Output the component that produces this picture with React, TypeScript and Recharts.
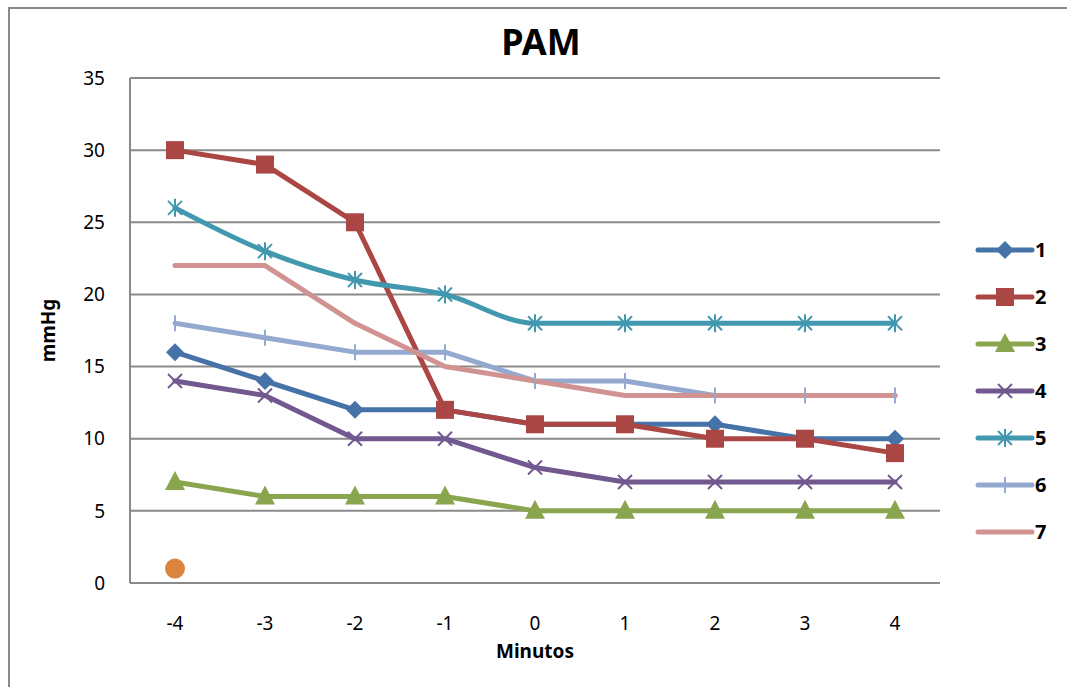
import React from "react"
import { LineChart, Line, XAxis, YAxis, CartesianGrid, Legend } from "recharts"

const minutes = ["-4", "-3", "-2", "-1", "0", "1", "2", "3", "4"]
const s1 = [16, 14, 12, 12, 11, 11, 11, 10, 10]
const s2 = [30, 29, 25, 12, 11, 11, 10, 10, 9]
const s3 = [7, 6, 6, 6, 5, 5, 5, 5, 5]
const s4 = [14, 13, 10, 10, 8, 7, 7, 7, 7]
const s5 = [26, 23, 21, 20, 18, 18, 18, 18, 18]
const s6 = [18, 17, 16, 16, 14, 14, 13, 13, 13]
const s7 = [22, 22, 18, 15, 14, 13, 13, 13, 13]
const s8 = [1, null, null, null, null, null, null, null, null]
const yTicks = [0, 5, 10, 15, 20, 25, 30, 35]

const data = minutes.map((m, i) => ({
  m,
  s1: s1[i],
  s2: s2[i],
  s3: s3[i],
  s4: s4[i],
  s5: s5[i],
  s6: s6[i],
  s7: s7[i],
  s8: s8[i],
}))

const series = [
  { key: "s1", name: "1", color: "#4572A7", marker: "diamond", curve: "linear" },
  { key: "s2", name: "2", color: "#AA4643", marker: "square", curve: "linear" },
  { key: "s3", name: "3", color: "#89A54E", marker: "triangle", curve: "linear" },
  { key: "s4", name: "4", color: "#71588F", marker: "x", curve: "linear" },
  { key: "s5", name: "5", color: "#4198AF", marker: "star", curve: "monotone" },
  { key: "s6", name: "6", color: "#93A9CF", marker: "plus", curve: "linear" },
  { key: "s7", name: "7", color: "#D19392", marker: "none", curve: "linear" },
]

const font = "'Noto Sans', 'Open Sans', sans-serif"

function marker(kind: string, color: string, cx: number, cy: number, k?: any) {
  if (kind === "diamond")
    return <polygon key={k} points={`${cx},${cy - 9} ${cx + 9},${cy} ${cx},${cy + 9} ${cx - 9},${cy}`} fill={color} />
  if (kind === "square") return <rect key={k} x={cx - 9} y={cy - 9} width={18} height={18} fill={color} />
  if (kind === "triangle")
    return <polygon key={k} points={`${cx},${cy - 11} ${cx + 10},${cy + 8} ${cx - 10},${cy + 8}`} fill={color} />
  if (kind === "x")
    return (
      <g key={k} stroke={color} strokeWidth={2}>
        <line x1={cx - 7} y1={cy - 7} x2={cx + 7} y2={cy + 7} />
        <line x1={cx - 7} y1={cy + 7} x2={cx + 7} y2={cy - 7} />
      </g>
    )
  if (kind === "star")
    return (
      <g key={k} stroke={color} strokeWidth={2}>
        <line x1={cx - 7} y1={cy - 7} x2={cx + 7} y2={cy + 7} />
        <line x1={cx - 7} y1={cy + 7} x2={cx + 7} y2={cy - 7} />
        <line x1={cx} y1={cy - 9} x2={cx} y2={cy + 9} />
      </g>
    )
  if (kind === "plus")
    return (
      <g key={k} stroke={color} strokeWidth={2}>
        <line x1={cx} y1={cy - 8} x2={cx} y2={cy + 8} />
      </g>
    )
  if (kind === "circle") return <circle key={k} cx={cx} cy={cy} r={10} fill={color} />
  return <g key={k} />
}

const dotFor = (kind: string, color: string) => (props: any) => {
  const { cx, cy, index, value } = props
  if (value == null || cx == null || cy == null) return <g key={index} />
  return marker(kind, color, cx, cy, index)
}

function LegendBox() {
  return (
    <div style={{ fontFamily: font }}>
      {series.map((s) => (
        <div key={s.key} style={{ height: 47, display: "flex", alignItems: "center" }}>
          <svg width={62} height={24}>
            <line x1={3} y1={12} x2={57} y2={12} stroke={s.color} strokeWidth={5} strokeLinecap="round" />
            {marker(s.marker, s.color, 30, 12)}
          </svg>
          <span style={{ fontWeight: 700, fontSize: 20, color: "#000", marginLeft: -2 }}>{s.name}</span>
        </div>
      ))}
    </div>
  )
}

export default function App() {
  return (
    <div style={{ position: "absolute", left: 0, top: 0, width: 1067, height: 687, background: "#fff" }}>
      <div
        style={{
          position: "absolute",
          left: 8,
          top: 7,
          width: 1100,
          height: 700,
          borderLeft: "2px solid #8a8a8a",
          borderTop: "2px solid #8a8a8a",
        }}
      />
      <div
        style={{
          position: "absolute",
          left: 0,
          top: 20,
          width: 1082,
          textAlign: "center",
          fontFamily: font,
          fontWeight: 700,
          fontSize: 36,
          lineHeight: "44px",
        }}
      >
        PAM
      </div>
      <div style={{ position: "absolute", left: 0, top: 0 }}>
        <LineChart width={1067} height={687} data={data} margin={{ top: 78, right: 127, bottom: 44, left: 10 }}>
          <CartesianGrid vertical={false} stroke="#8a8a8a" strokeWidth={2} />
          <XAxis
            dataKey="m"
            padding={{ left: 45, right: 45 }}
            tickLine={false}
            tickSize={0}
            tickMargin={34}
            height={60}
            axisLine={{ stroke: "#8a8a8a", strokeWidth: 2 }}
            tick={{ fill: "#000", fontSize: 19, fontFamily: font }}
            label={{ value: "Minutos", position: "bottom", offset: 2, fill: "#000", fontSize: 19, fontWeight: 700, fontFamily: font }}
          />
          <YAxis
            domain={[0, 35]}
            ticks={yTicks}
            width={120}
            tickLine={false}
            tickSize={0}
            tickMargin={25}
            axisLine={{ stroke: "#8a8a8a", strokeWidth: 2 }}
            tick={{ fill: "#000", fontSize: 19, fontFamily: font }}
            label={{
              value: "mmHg",
              angle: -90,
              position: "insideLeft",
              offset: 38,
              style: { textAnchor: "middle" },
              fill: "#000",
              fontSize: 19,
              fontWeight: 700,
              fontFamily: font,
            }}
          />
          <Legend
            layout="vertical"
            align="center"
            verticalAlign="middle"
            wrapperStyle={{ left: 975, top: 226, width: 90 }}
            content={() => <LegendBox />}
          />
          {series.map((s) => (
            <Line
              key={s.key}
              dataKey={s.key}
              name={s.name}
              type={s.curve as any}
              stroke={s.color}
              strokeWidth={5}
              strokeLinecap="round"
              strokeLinejoin="round"
              dot={dotFor(s.marker, s.color)}
              activeDot={false}
              isAnimationActive={false}
            />
          ))}
          <Line
            dataKey="s8"
            name="8"
            stroke="none"
            legendType="none"
            dot={dotFor("circle", "#DB843D")}
            activeDot={false}
            isAnimationActive={false}
          />
        </LineChart>
      </div>
    </div>
  )
}
